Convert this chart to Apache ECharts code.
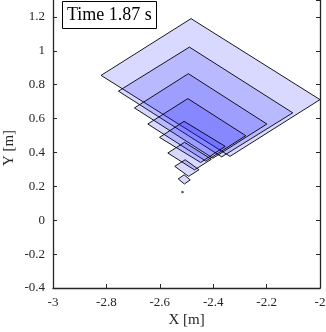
<!DOCTYPE html>
<html>
<head>
<meta charset="utf-8">
<script src="https://cdn.jsdelivr.net/npm/echarts@6/dist/echarts.min.js"></script>
<style>
  html, body { margin: 0; padding: 0; background: #fff; }
  #chart { width: 326px; height: 332px; }
</style>
</head>
<body>
<div id="chart"></div>
<script>
// corners of each footprint, largest first
var topX   = [-2.483, -2.489, -2.493, -2.495, -2.509, -2.507, -2.505, -2.509, -2.515];
var topY   = [ 1.190,  1.022,  0.865,  0.718,  0.584,  0.460,  0.357,  0.268,  0.170];
var leftX  = [-2.820, -2.755, -2.695, -2.645, -2.601, -2.570, -2.544, -2.531, -2.519];
var leftY  = [ 0.855,  0.762,  0.663,  0.568,  0.489,  0.397,  0.318,  0.244,  0.166];
var rightX = [-2.000, -2.102, -2.199, -2.278, -2.355, -2.407, -2.453, -2.486, -2.511];
var rightY = [ 0.712,  0.634,  0.568,  0.499,  0.436,  0.360,  0.298,  0.238,  0.166];
var botX   = [-2.337, -2.368, -2.401, -2.428, -2.447, -2.470, -2.492, -2.508, -2.515];
var botY   = [ 0.377,  0.374,  0.366,  0.349,  0.341,  0.297,  0.259,  0.214,  0.162];

var timeLabel = 'Time 1.87 s';
var serif = '"Liberation Serif", "DejaVu Serif", serif';
var axisCol = '#262626';

var chart = echarts.init(document.getElementById('chart'), null, { renderer: 'canvas' });

var rects = topX.map(function (x, i) { return [x, topY[i], i]; });

var option = {
  animation: false,
  title: {
    text: timeLabel,
    left: 62,
    top: 1,
    padding: [5, 5, 5, 5],
    borderColor: '#000',
    borderWidth: 1,
    backgroundColor: '#fff',
    textStyle: { fontFamily: serif, fontSize: 18, fontWeight: 'normal', color: '#000' }
  },
  grid: { left: 53, right: 6, top: 0, bottom: 44, outerBoundsMode: 'none', containLabel: false },
  xAxis: {
    type: 'value',
    min: -3, max: -2, interval: 0.2,
    name: 'X [m]',
    nameLocation: 'middle',
    nameGap: 25,
    nameMoveOverlap: false,
    nameTextStyle: { fontFamily: serif, fontSize: 15, color: axisCol },
    axisLine: { onZero: false, lineStyle: { color: axisCol, width: 1.3 } },
    axisTick: { inside: true, length: 4, lineStyle: { color: axisCol } },
    axisLabel: { fontFamily: serif, fontSize: 13, color: axisCol, margin: 8,
      formatter: function (v) { return String(Math.round(v * 10) / 10); } },
    splitLine: { show: false }
  },
  yAxis: [{
    type: 'value',
    min: -0.4, max: 1.3, interval: 0.2,
    name: 'Y [m]',
    nameLocation: 'middle',
    nameGap: 36,
    nameMoveOverlap: false,
    nameTextStyle: { fontFamily: serif, fontSize: 15, color: axisCol, padding: [0, 0, 0, -8] },
    axisLine: { show: true, onZero: false, lineStyle: { color: axisCol, width: 1.3 } },
    axisTick: { inside: true, length: 4, lineStyle: { color: axisCol } },
    axisLabel: { fontFamily: serif, fontSize: 13, color: axisCol, margin: 8, showMaxLabel: false,
      formatter: function (v) { return String(Math.round(v * 10) / 10); } },
    splitLine: { show: false }
  }, {
    type: 'value',
    position: 'right',
    min: -0.4, max: 1.3, interval: 0.2,
    axisLine: { show: true, onZero: false, lineStyle: { color: axisCol, width: 1.3 } },
    axisTick: { inside: true, length: 4, lineStyle: { color: axisCol } },
    axisLabel: { show: false },
    splitLine: { show: false }
  }],
  series: [{
    type: 'custom',
    clip: true,
    data: rects,
    renderItem: function (params, api) {
      var i = api.value(2);
      var pts = [
        api.coord([topX[i], topY[i]]),
        api.coord([rightX[i], rightY[i]]),
        api.coord([botX[i], botY[i]]),
        api.coord([leftX[i], leftY[i]])
      ];
      return {
        type: 'polygon',
        shape: { points: pts },
        style: { fill: 'rgba(0,0,255,0.15)', stroke: '#000', lineWidth: 0.9 }
      };
    }
  }]
};

chart.setOption(option);
</script>
</body>
</html>
